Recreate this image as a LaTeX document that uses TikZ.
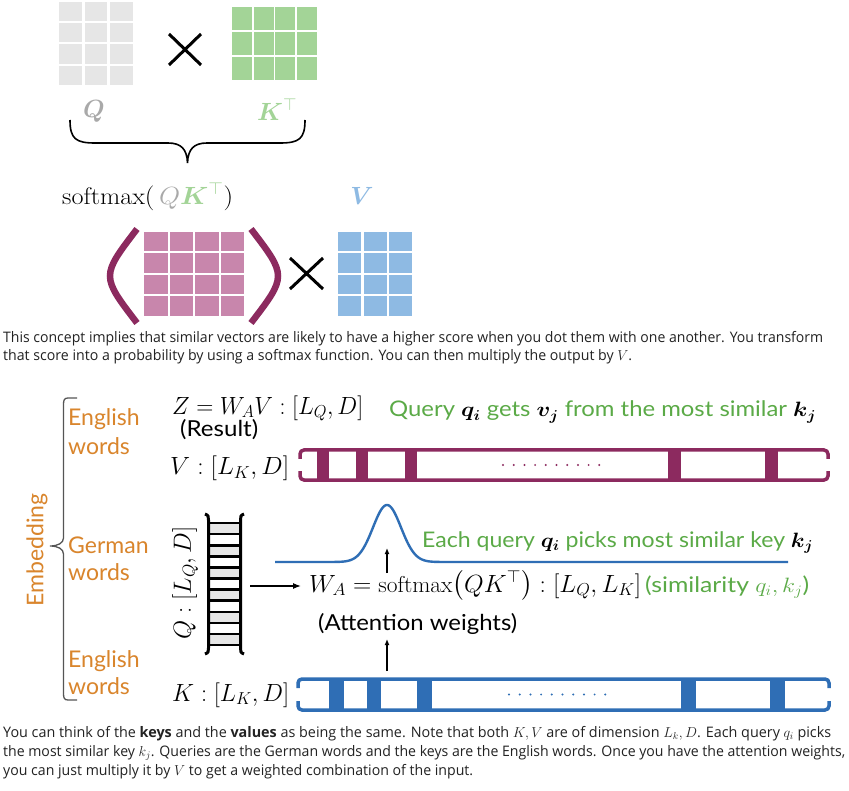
\documentclass[tikz,border=0pt]{standalone}
\usepackage{fontspec}
\usepackage{amsmath}
\usepackage{graphicx}
\usetikzlibrary{arrows.meta}
\newfontfamily\lato{Lato}
\newfontfamily\osans{Open Sans}
\definecolor{qcell}{HTML}{E6E6E6}
\definecolor{qlabel}{HTML}{A9A9A9}
\definecolor{kgreen}{HTML}{A3D497}
\definecolor{pinkcell}{HTML}{C886AC}
\definecolor{plum}{HTML}{8C2A5F}
\definecolor{vblue}{HTML}{8EBAE3}
\definecolor{orng}{HTML}{D9852C}
\definecolor{tgreen}{HTML}{5BAA47}
\definecolor{bblue}{HTML}{2F6EB5}
\definecolor{txt}{HTML}{222222}
\definecolor{bracegray}{HTML}{555555}
\begin{document}
\begin{tikzpicture}[x=1pt,y=-1pt,
  lbl/.style={inner sep=0pt, font=\lato\fontsize{23}{27}\selectfont},
  glbl/.style={inner sep=0pt, anchor=base west, text=tgreen, font=\lato\fontsize{21.5}{25}\selectfont},
  mth/.style={inner sep=0pt, font=\fontsize{23}{27}\selectfont},
  toplbl/.style={inner sep=0pt, font=\fontsize{26}{30}\selectfont},
  para/.style={inner sep=0pt, anchor=base west, font=\osans\fontsize{14.5}{18}\selectfont, text=txt},
  arr/.style={line width=1.3pt, -{Latex[length=8pt,width=6pt]}},
  arrs/.style={line width=1.2pt, -{Latex[length=6pt,width=5pt]}},
  xmark/.style={line width=3pt},
  vbarline/.style={draw=plum, line width=3.5pt, rounded corners=4pt},
  kbarline/.style={draw=bblue, line width=3.5pt, rounded corners=4pt},
]
\fill[white] (0,0) rectangle (849,791);
\useasboundingbox (0,0) rectangle (849,791);

% ---------- top: Q x K^T ----------
\foreach \i in {0,1,2} \foreach \j in {0,...,3}
  \fill[qcell] ({59+25.5*\i},{1.7+21.4*\j}) rectangle ++(22.5,19.3);
\foreach \i in {0,...,3} \foreach \j in {0,1,2}
  \fill[kgreen] ({232+21.6*\i},{7+25.2*\j}) rectangle ++(20,23);
\draw[xmark] (169,34) -- (201,65) (169,65) -- (201,34);
\node[toplbl, anchor=base, text=qlabel] (qtop) at (94,118) {$\boldsymbol{Q}$};
\node[toplbl, anchor=base west, text=kgreen] (kttop) at (257,121) {$\boldsymbol{K}^{\top}$};
\draw[line width=1.6pt] (70,120) .. controls (70,139) and (76,143) .. (95,143) -- (168,143)
  .. controls (181,143) and (187,149) .. (187.5,163)
  .. controls (188,149) and (194,143) .. (207,143) -- (280,143)
  .. controls (299,143) and (305,139) .. (305,120);

% ---------- softmax(QK^T) x V ----------
\node[mth, anchor=base west, font=\fontsize{24}{28}\selectfont] (smx) at (62,205) {\resizebox{171pt}{\height}{$\mathrm{softmax}(\,\textcolor{qlabel}{Q}\textcolor{kgreen}{\boldsymbol{K}^{\top}})$}};
\node[toplbl, anchor=base, text=vblue] (vtop) at (362,205) {$\boldsymbol{V}$};
\foreach \i in {0,...,3} \foreach \j in {0,...,3}
  \fill[pinkcell] ({144+25.5*\i},{232+21.5*\j}) rectangle ++(23.5,19.5);
\foreach \i in {0,1,2} \foreach \j in {0,...,3}
  \fill[vblue] ({338+25.5*\i},{232+21.5*\j}) rectangle ++(23,19.5);
\draw[plum, line width=6.5pt] (137,229) .. controls (101,276) .. (137,323);
\draw[plum, line width=6.5pt] (251,229) .. controls (287,276) .. (251,323);
\draw[xmark] (290,258) -- (323,289) (290,289) -- (323,258);

% ---------- paragraph 1 ----------
\node[para] (p1a) at (3,343) {\resizebox{820pt}{\height}{This concept implies that similar vectors are likely to have a higher score when you dot them with one another. You transform}};
\node[para] (p1b) at (3,361) {\resizebox{629pt}{\height}{that score into a probability by using a softmax function. You can then multiply the output by $V$.}};

% ---------- middle diagram ----------
\draw[bracegray, line width=1.3pt] (77,398) -- (68,398) .. controls (64.5,398) and (63.5,400) .. (63.5,404) -- (63.5,538)
  .. controls (63.5,543) and (58,546) .. (50,546)
  .. controls (58,546) and (63.5,549) .. (63.5,554) -- (63.5,694)
  .. controls (63.5,698) and (64.5,700) .. (68,700) -- (77,700);
\node[lbl, rotate=90, text=orng] (emb) at (37,550) {Embedding};
\node[lbl, anchor=base west, text=orng] (en1) at (68,426) {English};
\node[lbl, anchor=base west, text=orng] (wd1) at (68,454) {words};
\node[lbl, anchor=base west, text=orng] (de) at (68,553) {German};
\node[lbl, anchor=base west, text=orng] (wd2) at (68,580) {words};
\node[lbl, anchor=base west, text=orng] (en2) at (68,667) {English};
\node[lbl, anchor=base west, text=orng] (wd3) at (68,694) {words};

\node[mth, anchor=base west] (zlab) at (172,414) {\resizebox{191pt}{\height}{$Z = W_A V : [L_Q, D]$}};
\node[lbl, anchor=base west, font=\lato\fontsize{22}{26}\selectfont] (res) at (180,437) {\resizebox{78pt}{\height}{(Result)}};
\node[mth, anchor=base west] (vlab) at (170,475) {\resizebox{119pt}{\height}{$V : [L_K, D]$}};
\node[mth, anchor=base west] (klab) at (172,701) {\resizebox{117pt}{\height}{$K : [L_K, D]$}};
\node[mth, rotate=90] (qlab) at (185,583) {\resizebox{113pt}{\height}{$Q : [L_Q, D]$}};

\node[glbl] (query) at (389,417) {\resizebox{427pt}{\height}{Query \textcolor{black}{$\boldsymbol{q_i}$} gets \textcolor{black}{$\boldsymbol{v_j}$} from the most similar \textcolor{black}{$\boldsymbol{k_j}$}}};
\node[glbl] (each) at (422,547) {\resizebox{391pt}{\height}{Each query \textcolor{black}{$\boldsymbol{q_i}$} picks most similar key \textcolor{black}{$\boldsymbol{k_j}$}}};
\node[mth, anchor=base west] (wa) at (309,592) {\resizebox{332pt}{\height}{$W_A = \mathrm{softmax}\bigl(QK^{\top}\bigr) : [L_Q, L_K]$}};
\node[glbl] (sim) at (645,592) {\resizebox{164pt}{\height}{(similarity $q_i, k_j$)}};
\node[lbl, anchor=base west, font=\lato\fontsize{22}{26}\selectfont] (att) at (318,630) {\resizebox{199pt}{\height}{(Attention weights)}};

% V bar
\draw[vbarline] (300,459) -- (300,450) -- (828,450) -- (828,459);
\draw[vbarline] (300,471) -- (300,480) -- (828,480) -- (828,471);
\foreach \a/\b in {317/329, 356/368, 405/417, 668/681, 765/778}
  \fill[plum] (\a,450) rectangle (\b,480);
\foreach \k in {0,...,9} \fill[plum] ({503+10.7*\k},465) circle (1.1pt);

% K bar
\draw[kbarline] (298,688) -- (298,679) -- (829,679) -- (829,688);
\draw[kbarline] (298,701) -- (298,710) -- (829,710) -- (829,701);
\foreach \a/\b in {329/344, 367/381, 417/432, 681/696, 770/785}
  \fill[bblue] (\a,679) rectangle (\b,710);
\foreach \k in {0,...,9} \fill[bblue] ({509+10.7*\k},694.5) circle (1.1pt);

% Q vector
\foreach \k in {0,2,4,6,8,10}
  \fill[qcell] (209,{523+\k*11.1}) rectangle (240,{523+(\k+1)*11.1});
\foreach \k in {0,...,11}
  \draw[line width=2.6pt] (208.5,{523+\k*11.1}) -- (240.5,{523+\k*11.1});
\draw[line width=3pt] (205,514) .. controls (208.5,515) and (208.5,517) .. (208.5,520) -- (208.5,648) .. controls (208.5,651) and (208.5,653) .. (205,654);
\draw[line width=3pt] (244,514) .. controls (240.5,515) and (240.5,517) .. (240.5,520) -- (240.5,648) .. controls (240.5,651) and (240.5,653) .. (244,654);

% attention curve
\draw[bblue, line width=2.4pt] (275,562) -- (331,562) -- plot[domain=331:443, samples=120] (\x,{562-57*exp(-(\x-387)*(\x-387)/392)}) -- (788,562);

% arrows
\coordinate (qarrS) at (250,586);
\coordinate (qarrE) at (301,586);
\draw[arr] (qarrS) -- (qarrE);
\coordinate (pkS) at (387,573);
\coordinate (pkE) at (387,548);
\draw[arrs] (pkS) -- (pkE);
\coordinate (kaS) at (387,671);
\coordinate (kaE) at (387,639);
\draw[arrs] (kaS) -- (kaE);

% ---------- paragraph 2 ----------
\node[para] (p2a) at (3,737) {\resizebox{828pt}{\height}{You can think of the \textbf{keys} and the \textbf{values} as being the same. Note that both $K,V$ are of dimension $L_k,D$. Each query $q_i$ picks}};
\node[para] (p2b) at (3,756) {\resizebox{842pt}{\height}{the most similar key $k_j$. Queries are the German words and the keys are the English words. Once you have the attention weights,}};
\node[para] (p2c) at (3,775) {\resizebox{470pt}{\height}{you can just multiply it by $V$ to get a weighted combination of the input.}};
\end{tikzpicture}
\end{document}
